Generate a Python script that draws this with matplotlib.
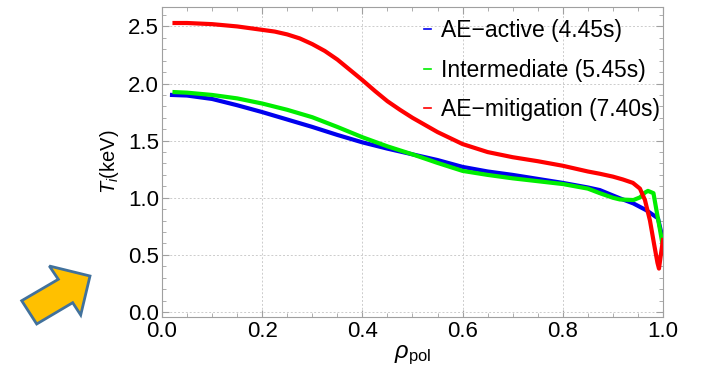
import matplotlib
matplotlib.use('Agg')
import matplotlib.pyplot as plt
from matplotlib.patches import Polygon
from matplotlib.ticker import MultipleLocator

plt.rcParams['font.family'] = ['Liberation Sans', 'DejaVu Sans']
plt.rcParams['mathtext.fontset'] = 'custom'
plt.rcParams['mathtext.rm'] = 'Liberation Sans'
plt.rcParams['mathtext.it'] = 'Liberation Sans:italic'

# Ion temperature profiles vs normalised poloidal radius
rho_active = [0.02, 0.05, 0.10, 0.15, 0.20, 0.25, 0.30, 0.35, 0.40, 0.45, 0.50, 0.55,
              0.60, 0.65, 0.70, 0.75, 0.80, 0.85, 0.874, 0.90, 0.914, 0.941, 0.967,
              0.99, 1.0]
ti_active = [1.90, 1.895, 1.865, 1.81, 1.75, 1.685, 1.62, 1.55, 1.485, 1.43, 1.38, 1.33,
             1.27, 1.23, 1.20, 1.165, 1.13, 1.09, 1.067, 1.02, 0.995, 0.95, 0.89,
             0.82, 0.63]

rho_inter = [0.025, 0.05, 0.10, 0.15, 0.20, 0.25, 0.30, 0.35, 0.40, 0.45, 0.50, 0.55,
             0.60, 0.65, 0.70, 0.75, 0.80, 0.85, 0.874, 0.90, 0.914, 0.941, 0.954,
             0.964, 0.97, 0.981, 0.987, 0.994, 1.0]
ti_inter = [1.925, 1.92, 1.90, 1.87, 1.825, 1.77, 1.705, 1.62, 1.53, 1.45, 1.38, 1.305,
            1.235, 1.20, 1.17, 1.145, 1.12, 1.08, 1.04, 1.00, 0.985, 0.98, 1.003,
            1.045, 1.06, 1.04, 0.89, 0.72, 0.57]

rho_mitig = [0.025, 0.05, 0.10, 0.15, 0.20, 0.225, 0.25, 0.275, 0.30, 0.325, 0.35,
             0.375, 0.40, 0.425, 0.45, 0.475, 0.50, 0.55, 0.60, 0.65, 0.70, 0.75,
             0.80, 0.85, 0.874, 0.90, 0.92, 0.94, 0.954, 0.964, 0.974, 0.982, 0.989,
             0.992, 0.997, 1.0]
ti_mitig = [2.53, 2.53, 2.52, 2.50, 2.47, 2.455, 2.43, 2.395, 2.345, 2.285, 2.21,
            2.12, 2.03, 1.935, 1.845, 1.77, 1.70, 1.575, 1.47, 1.40, 1.355, 1.32,
            1.28, 1.23, 1.21, 1.185, 1.16, 1.13, 1.08, 0.98, 0.80, 0.60, 0.43,
            0.38, 0.54, 0.63]

labels = ['AE\u2212active (4.45s)', 'Intermediate (5.45s)', 'AE\u2212mitigation (7.40s)']
colors = ['#0000ee', '#00ee00', '#ff0000']

fig = plt.figure(figsize=(7.05, 3.75), dpi=100)
ax = fig.add_axes([0.2298, 0.1547, 0.7106, 0.8266])

for x, y, lab, c in zip([rho_active, rho_inter, rho_mitig],
                        [ti_active, ti_inter, ti_mitig], labels, colors):
    ax.plot(x, y, color=c, lw=3, label=lab, solid_joinstyle='round')

ax.set_xlim(0, 1)
ax.set_ylim(-0.044, 2.67)
ax.xaxis.set_major_locator(MultipleLocator(0.2))
ax.xaxis.set_minor_locator(MultipleLocator(0.05))
ax.yaxis.set_major_locator(MultipleLocator(0.5))
ax.yaxis.set_minor_locator(MultipleLocator(0.1))
ax.xaxis.set_major_formatter(plt.FuncFormatter(lambda v, p: f'{v:.1f}'))
ax.yaxis.set_major_formatter(plt.FuncFormatter(lambda v, p: f'{v:.1f}'))

ax.grid(True, which='major', color='#cccccc', ls=(0, (2, 2)), lw=0.7)
for s in ax.spines.values():
    s.set_color('#a0a0a0')
ax.tick_params(which='both', direction='in', top=True, right=True, color='#a0a0a0',
               labelsize=16, labeltop=False, labelright=False)
ax.tick_params(axis='y', pad=2)
ax.tick_params(axis='x', pad=3)
ax.tick_params(which='major', length=5)
ax.tick_params(which='minor', length=3)

ax.set_ylabel('$T_i$(keV)', fontsize=14.5, labelpad=5)
ax.set_xlabel(r'$\rho_{\rm pol}$', fontsize=17, labelpad=1)

leg = ax.legend(loc='upper right', bbox_to_anchor=(0.995, 0.96), frameon=False,
                fontsize=16.5, handlelength=0.3, handletextpad=0.45,
                labelspacing=0.72, borderaxespad=0, borderpad=0)
for h in leg.get_lines():
    h.set_linewidth(1.2)

# Block arrow decoration at lower left
arrow_px = [(21.7, 300.7), (58.3, 279.3), (49.3, 266), (90, 276),
            (80.7, 315), (72.7, 302.7), (36.7, 324)]
arrow = Polygon([(px / 705, 1 - py / 375) for px, py in arrow_px], closed=True,
                transform=fig.transFigure, facecolor='#ffc000', edgecolor='#41719c',
                lw=2, joinstyle='miter')
fig.patches.append(arrow)

fig.savefig('out.png', dpi=100)
